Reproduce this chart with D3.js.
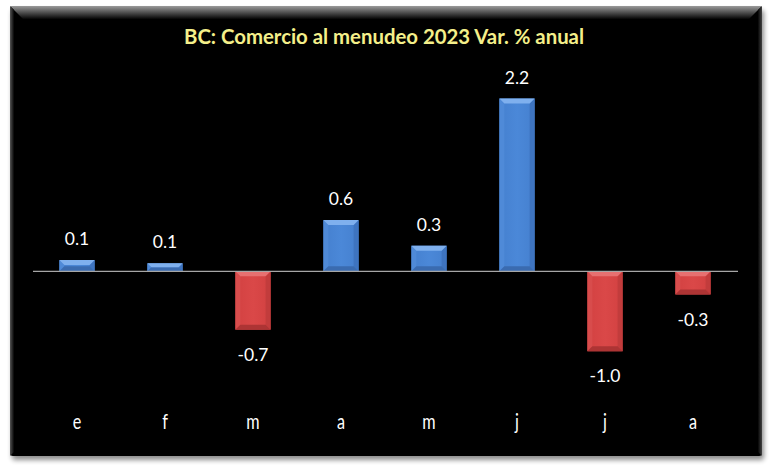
<!DOCTYPE html>
<html>
<head>
<meta charset="utf-8">
<script src="https://cdn.jsdelivr.net/npm/d3@7/dist/d3.min.js"></script>
<style>
  html, body { margin: 0; padding: 0; background: #ffffff; }
  svg { display: block; }
</style>
</head>
<body>
<svg id="chart" width="770" height="470"></svg>
<script>
// ---- data ----
const title = "BC: Comercio al menudeo 2023 Var. % anual";
const categories = ["e", "f", "m", "a", "m", "j", "j", "a"];
const values = [0.14, 0.10, -0.73, 0.64, 0.32, 2.16, -1.0, -0.29];
const yDomain = [-1.5, 2.5];

// ---- layout ----
const frame = { x: 10, y: 6, w: 752, h: 450 };
const plot = { left: 33, right: 738, top: 71.3, bottom: 391.3 };

const svg = d3.select("#chart");
const defs = svg.append("defs");

// shadow filter
const f = defs.append("filter").attr("id", "shadow").attr("x", "-5%").attr("y", "-5%").attr("width", "110%").attr("height", "115%");
f.append("feGaussianBlur").attr("in", "SourceAlpha").attr("stdDeviation", 2.5);
f.append("feOffset").attr("dx", 2).attr("dy", 4).attr("result", "ob");
f.append("feComponentTransfer").append("feFuncA").attr("type", "linear").attr("slope", 0.45);
const fm = f.append("feMerge");
fm.append("feMergeNode");
fm.append("feMergeNode").attr("in", "SourceGraphic");

// frame bevel gradients
const gTop = defs.append("linearGradient").attr("id", "bevTop").attr("x1", 0).attr("y1", 0).attr("x2", 0).attr("y2", 1);
gTop.append("stop").attr("offset", "0%").attr("stop-color", "#9a9a9a");
gTop.append("stop").attr("offset", "100%").attr("stop-color", "#050505");
const gLeft = defs.append("linearGradient").attr("id", "bevLeft").attr("x1", 0).attr("y1", 0).attr("x2", 1).attr("y2", 0);
gLeft.append("stop").attr("offset", "0%").attr("stop-color", "#555");
gLeft.append("stop").attr("offset", "100%").attr("stop-color", "#050505");
const gRight = defs.append("linearGradient").attr("id", "bevRight").attr("x1", 1).attr("y1", 0).attr("x2", 0).attr("y2", 0);
gRight.append("stop").attr("offset", "0%").attr("stop-color", "#444");
gRight.append("stop").attr("offset", "100%").attr("stop-color", "#050505");

// frame
svg.append("rect")
  .attr("x", frame.x).attr("y", frame.y).attr("width", frame.w).attr("height", frame.h)
  .attr("rx", 3).attr("fill", "#000").attr("filter", "url(#shadow)");
const bv = 13;
const fx0 = frame.x, fx1 = frame.x + frame.w, fy0 = frame.y, fy1 = frame.y + frame.h;
svg.append("polygon")
  .attr("points", [[fx0, fy0], [fx1, fy0], [fx1 - bv, fy0 + bv], [fx0 + bv, fy0 + bv]].map(p => p.join(",")).join(" "))
  .attr("fill", "url(#bevTop)");
svg.append("polygon")
  .attr("points", [[fx0, fy0], [fx0 + 4, fy0 + 4], [fx0 + 4, fy1 - 4], [fx0, fy1]].map(p => p.join(",")).join(" "))
  .attr("fill", "url(#bevLeft)");
svg.append("polygon")
  .attr("points", [[fx1, fy0], [fx1 - 4, fy0 + 4], [fx1 - 4, fy1 - 4], [fx1, fy1]].map(p => p.join(",")).join(" "))
  .attr("fill", "url(#bevRight)");

// title
svg.append("text")
  .attr("x", 384).attr("y", 44)
  .attr("text-anchor", "middle")
  .attr("font-family", "Lato, 'Open Sans', sans-serif")
  .attr("font-weight", "bold")
  .attr("font-size", 20.5)
  .attr("textLength", 400).attr("lengthAdjust", "spacingAndGlyphs")
  .attr("fill", "#f4ef8a")
  .text(title);

// scales
const x = d3.scaleBand()
  .domain(d3.range(categories.length))
  .range([plot.left, plot.left + 704])
  .paddingInner(0.6)
  .paddingOuter(0.3);
const y = d3.scaleLinear().domain(yDomain).range([plot.bottom, plot.top]);

// bar body gradients
function grad(id, c1, c2) {
  const g = defs.append("linearGradient").attr("id", id).attr("x1", 0).attr("y1", 0).attr("x2", 1).attr("y2", 0);
  g.append("stop").attr("offset", "0%").attr("stop-color", c1);
  g.append("stop").attr("offset", "50%").attr("stop-color", c2);
  g.append("stop").attr("offset", "100%").attr("stop-color", c1);
}
grad("blueBody", "#4580cf", "#4b88d8");
grad("redBody", "#d24141", "#da4848");

const palette = {
  pos: { body: "url(#blueBody)", top: "#7fb0ee", left: "#4f8ad8", right: "#3e74c0", bottom: "#3a6bb0" },
  neg: { body: "url(#redBody)", top: "#e77070", left: "#d84c4c", right: "#c23c3c", bottom: "#ad3434" }
};

const bars = svg.append("g");
values.forEach((v, i) => {
  const x0 = x(i), x1 = x(i) + x.bandwidth();
  const y0 = Math.min(y(v), y(0)), y1 = Math.max(y(v), y(0));
  const c = v >= 0 ? palette.pos : palette.neg;
  const b = Math.min(5, (y1 - y0) / 2, (x1 - x0) / 2);
  const g = bars.append("g");
  g.append("rect").attr("x", x0).attr("y", y0).attr("width", x1 - x0).attr("height", y1 - y0).attr("fill", c.body);
  const poly = (pts, fill) => g.append("polygon").attr("points", pts.map(p => p.join(",")).join(" ")).attr("fill", fill);
  poly([[x0, y0], [x0 + b, y0 + b], [x0 + b, y1 - b], [x0, y1]], c.left);
  poly([[x1, y0], [x1 - b, y0 + b], [x1 - b, y1 - b], [x1, y1]], c.right);
  poly([[x0, y1], [x1, y1], [x1 - b, y1 - b], [x0 + b, y1 - b]], c.bottom);
  poly([[x0, y0], [x1, y0], [x1 - b, y0 + b], [x0 + b, y0 + b]], c.top);
});

// zero line
svg.append("line")
  .attr("x1", plot.left).attr("x2", plot.right)
  .attr("y1", y(0)).attr("y2", y(0))
  .attr("stroke", "#a6a6a6").attr("stroke-width", 1.2);

// value labels
const fmt = d3.format(".1f");
svg.append("g").selectAll("text")
  .data(values)
  .join("text")
  .attr("x", (d, i) => x(i) + x.bandwidth() / 2)
  .attr("y", d => d >= 0 ? y(d) - 15 : y(d) + 31)
  .attr("text-anchor", "middle")
  .attr("font-family", "Lato, 'Open Sans', sans-serif")
  .attr("font-size", 17.5)
  .attr("fill", "#ffffff")
  .text(d => fmt(d).replace("\u2212", "-"));

// category axis labels
svg.append("g").selectAll("text")
  .data(categories)
  .join("text")
  .attr("transform", (d, i) => `translate(${x(i) + x.bandwidth() / 2},429) scale(0.9,1.15)`)
  .attr("text-anchor", "middle")
  .attr("font-family", "Lato, 'Open Sans', sans-serif")
  .attr("font-size", 18)
  .attr("fill", "#ffffff")
  .text(d => d);
</script>
</body>
</html>
